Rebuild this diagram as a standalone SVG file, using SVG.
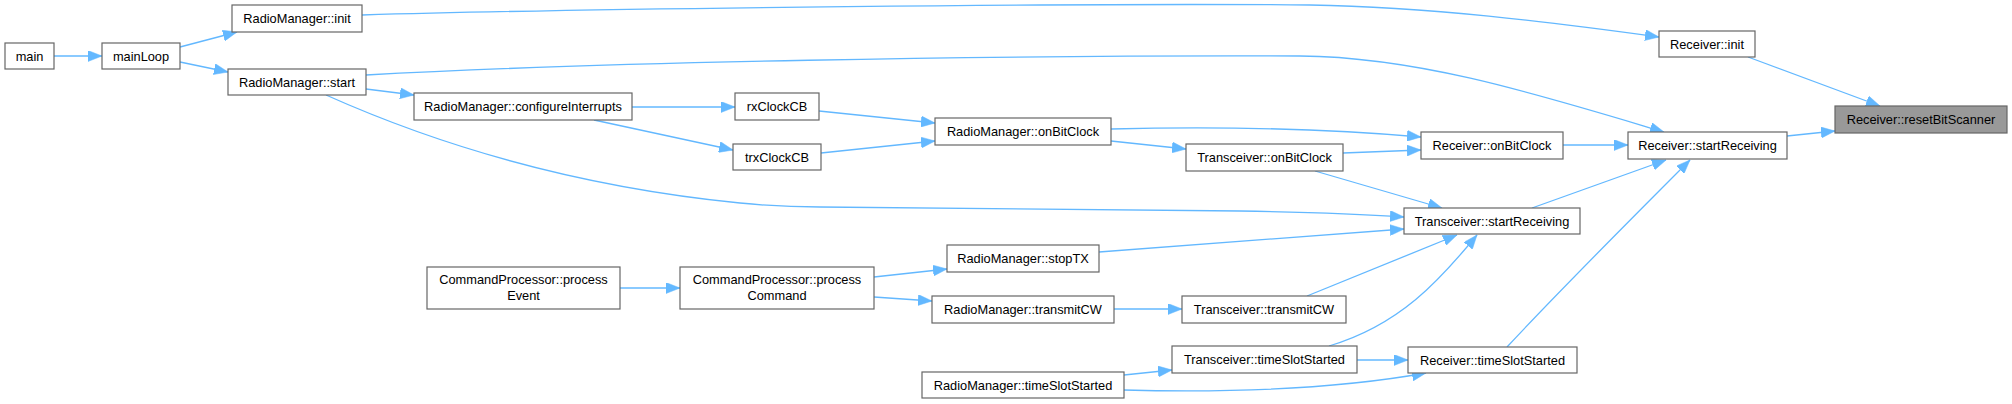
<svg xmlns="http://www.w3.org/2000/svg" width="2012" height="404" viewBox="0 0 2012 404">
<style>
.n rect{fill:#fff;stroke:#666;stroke-width:1.2}
.n.h rect{fill:#999}
.n text{font-family:"Liberation Sans",Arial,sans-serif;font-size:12.8px;fill:#000;text-anchor:middle}
.e path{fill:none;stroke:#63b8ff;stroke-width:1.3;marker-end:url(#ah)}
</style>
<defs>
<marker id="ah" markerWidth="15" markerHeight="11" refX="14" refY="5.5" orient="auto" markerUnits="userSpaceOnUse">
<path d="M0,0 L14,5.5 L0,11 z" fill="#63b8ff" stroke="#63b8ff" stroke-width="0.5"/>
</marker>
</defs>
<rect width="2012" height="404" fill="#fff"/>
<g id="edges" class="e">
<path d="M54,56 L102,56"/>
<path d="M180,47 L237,32"/>
<path d="M180,62 L228,72"/>
<path d="M362,15 C600,8 1100,3 1310,5 C1430,7 1550,22 1659,37"/>
<path d="M366,75 C600,62 1000,55 1300,56 C1420,57 1540,95 1664,132"/>
<path d="M366,89 L414,95"/>
<path d="M326,95 C420,137 560,185 740,203 C770,206 790,207 820,207 L1240,211 C1300,212 1360,214 1404,217"/>
<path d="M632,107 L735,107"/>
<path d="M594,120 L733,150"/>
<path d="M819,111 L935,123"/>
<path d="M821,153 L935,141"/>
<path d="M1111,129 C1230,126 1330,129 1421,137"/>
<path d="M1111,141 L1186,149"/>
<path d="M1343,153 L1421,150"/>
<path d="M1563,145 L1628,145"/>
<path d="M1748,57 L1880,106"/>
<path d="M1787,136 L1835,131"/>
<path d="M1532,208 L1666,160"/>
<path d="M1507,347 C1560,290 1630,220 1690,160"/>
<path d="M1315,171 L1442,208"/>
<path d="M1099,252 L1404,229"/>
<path d="M1307,296 L1457,235"/>
<path d="M1329,346 C1400,325 1440,280 1477,235"/>
<path d="M620,288 L680,288"/>
<path d="M874,277 L947,269"/>
<path d="M874,297 L932,301"/>
<path d="M1114,309 L1182,309"/>
<path d="M1124,375 L1172,370"/>
<path d="M1124,390 C1200,392 1320,392 1426,373"/>
<path d="M1357,360 L1408,360"/>
</g>
<g id="main" class="n"><rect x="5" y="43" width="49" height="26"/><text x="29.5" y="60.5">main</text></g>
<g id="mainLoop" class="n"><rect x="102" y="43" width="78" height="26"/><text x="141" y="60.5">mainLoop</text></g>
<g id="rm_init" class="n"><rect x="232" y="5" width="130" height="27"/><text x="297" y="23">RadioManager::init</text></g>
<g id="rm_start" class="n"><rect x="228" y="69" width="138" height="26"/><text x="297" y="86.5">RadioManager::start</text></g>
<g id="rm_configureInterrupts" class="n"><rect x="414" y="93" width="218" height="27"/><text x="523" y="111">RadioManager::configureInterrupts</text></g>
<g id="rxClockCB" class="n"><rect x="735" y="93" width="84" height="27"/><text x="777" y="111">rxClockCB</text></g>
<g id="trxClockCB" class="n"><rect x="733" y="144" width="88" height="26"/><text x="777" y="161.5">trxClockCB</text></g>
<g id="rm_onBitClock" class="n"><rect x="935" y="118" width="176" height="27"/><text x="1023" y="136">RadioManager::onBitClock</text></g>
<g id="tr_onBitClock" class="n"><rect x="1186" y="144" width="157" height="27"/><text x="1264.5" y="162">Transceiver::onBitClock</text></g>
<g id="rc_onBitClock" class="n"><rect x="1421" y="132" width="142" height="27"/><text x="1492" y="150">Receiver::onBitClock</text></g>
<g id="rc_startReceiving" class="n"><rect x="1628" y="132" width="159" height="27"/><text x="1707.5" y="150">Receiver::startReceiving</text></g>
<g id="rc_resetBitScanner" class="n h"><rect x="1835" y="106" width="172" height="27"/><text x="1921" y="124">Receiver::resetBitScanner</text></g>
<g id="rc_init" class="n"><rect x="1659" y="31" width="96" height="26"/><text x="1707" y="48.5">Receiver::init</text></g>
<g id="tr_startReceiving" class="n"><rect x="1404" y="208" width="176" height="26"/><text x="1492" y="225.5">Transceiver::startReceiving</text></g>
<g id="rm_stopTX" class="n"><rect x="947" y="245" width="152" height="27"/><text x="1023" y="263">RadioManager::stopTX</text></g>
<g id="rm_transmitCW" class="n"><rect x="932" y="296" width="182" height="27"/><text x="1023" y="314">RadioManager::transmitCW</text></g>
<g id="tr_transmitCW" class="n"><rect x="1182" y="296" width="164" height="27"/><text x="1264" y="314">Transceiver::transmitCW</text></g>
<g id="tr_timeSlotStarted" class="n"><rect x="1172" y="346" width="185" height="27"/><text x="1264.5" y="364">Transceiver::timeSlotStarted</text></g>
<g id="rc_timeSlotStarted" class="n"><rect x="1408" y="347" width="169" height="26"/><text x="1492.5" y="364.5">Receiver::timeSlotStarted</text></g>
<g id="rm_timeSlotStarted" class="n"><rect x="922" y="372" width="202" height="26"/><text x="1023" y="389.5">RadioManager::timeSlotStarted</text></g>
<g id="cp_processEvent" class="n"><rect x="427" y="267" width="193" height="42"/><text x="523.5" y="284">CommandProcessor::process</text><text x="523.5" y="300">Event</text></g>
<g id="cp_processCommand" class="n"><rect x="680" y="267" width="194" height="42"/><text x="777" y="284">CommandProcessor::process</text><text x="777" y="300">Command</text></g>
</svg>
